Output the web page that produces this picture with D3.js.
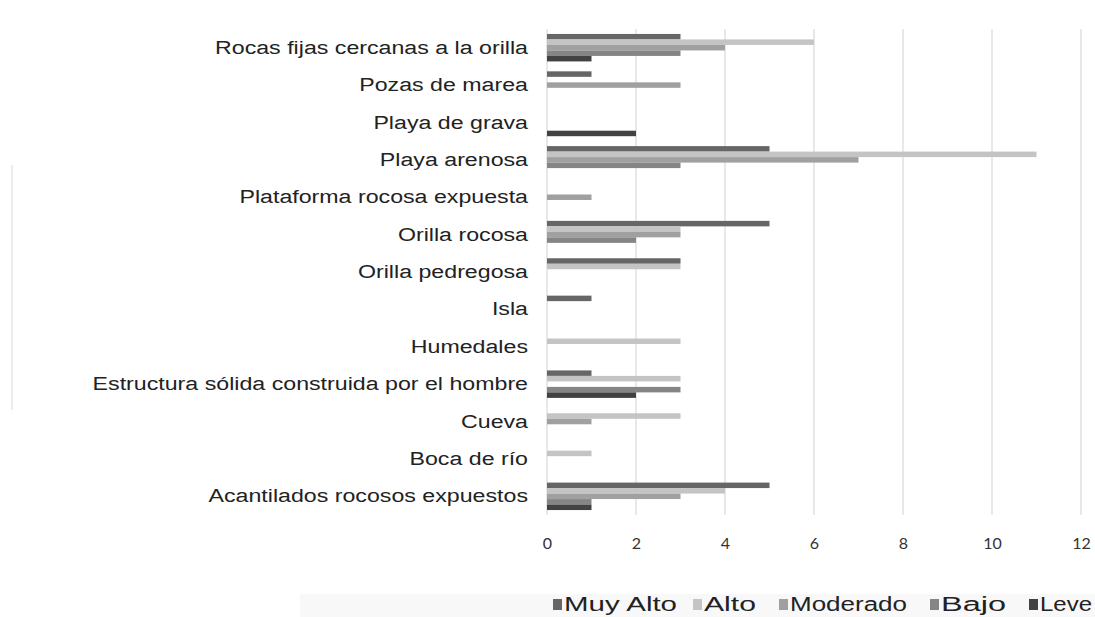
<!DOCTYPE html>
<html>
<head>
<meta charset="utf-8">
<script src="https://cdn.jsdelivr.net/npm/d3@7"></script>
<style>
  body { margin: 0; background: #fff; }
  svg { display: block; }
</style>
</head>
<body>
<svg id="chart" width="1095" height="617"></svg>
<script>
// categories, top to bottom
var categories = [
  "Rocas fijas cercanas a la orilla",
  "Pozas de marea",
  "Playa de grava",
  "Playa arenosa",
  "Plataforma rocosa expuesta",
  "Orilla rocosa",
  "Orilla pedregosa",
  "Isla",
  "Humedales",
  "Estructura sólida construida por el hombre",
  "Cueva",
  "Boca de río",
  "Acantilados rocosos expuestos"
];
var seriesNames = ["Muy Alto", "Alto", "Moderado", "Bajo", "Leve"];
var seriesColors = ["#666666", "#c4c4c4", "#a0a0a0", "#858585", "#424242"];

// one array per series, same order as categories
var muyAlto  = [3, 1, 0, 5, 0, 5, 3, 1, 0, 1, 0, 0, 5];
var alto     = [6, 0, 0, 11, 0, 3, 3, 0, 3, 3, 3, 1, 4];
var moderado = [4, 3, 0, 7, 1, 3, 0, 0, 0, 0, 1, 0, 3];
var bajo     = [3, 0, 0, 3, 0, 2, 0, 0, 0, 3, 0, 0, 1];
var leve     = [1, 0, 2, 0, 0, 0, 0, 0, 0, 2, 0, 0, 1];
var xTicks = [0, 2, 4, 6, 8, 10, 12];

var allSeries = [muyAlto, alto, moderado, bajo, leve];

var svg = d3.select("#chart");
var plotLeft = 547, plotRight = 1081, plotTop = 29, plotBottom = 515;
var stretch = 1.22; // the scanned text is wider than it is tall

var x = d3.scaleLinear().domain([0, 12]).range([plotLeft, plotRight]);
var y = d3.scaleBand().domain(categories).range([plotTop, plotBottom])
    .paddingInner(0.265).paddingOuter(0.1325);
var ySub = d3.scaleBand().domain(seriesNames).range([0, y.bandwidth()]);

// faint scan edge at left
svg.append("line").attr("x1", 12).attr("x2", 12).attr("y1", 165).attr("y2", 410)
    .attr("stroke", "#ececec").attr("stroke-width", 2);
// faint legend band
svg.append("rect").attr("x", 300).attr("y", 594).attr("width", 795).attr("height", 23)
    .attr("fill", "#f8f8f8");

// gridlines
svg.append("g").selectAll("line").data(xTicks).enter().append("line")
    .attr("x1", function (d) { return x(d); })
    .attr("x2", function (d) { return x(d); })
    .attr("y1", plotTop).attr("y2", plotBottom)
    .attr("stroke", "#d9d9d9").attr("stroke-width", 1.2);

// bars
var groups = svg.append("g").selectAll("g").data(categories).enter().append("g")
    .attr("transform", function (d) { return "translate(0," + y(d) + ")"; });

groups.selectAll("rect")
    .data(function (d, i) {
      return seriesNames.map(function (s, j) { return { s: s, v: allSeries[j][i], c: seriesColors[j] }; });
    })
    .enter().append("rect")
    .attr("x", x(0))
    .attr("y", function (d) { return ySub(d.s); })
    .attr("height", ySub.bandwidth())
    .attr("width", function (d) { return x(d.v) - x(0); })
    .attr("fill", function (d) { return d.c; });

// x axis labels
var xAxis = svg.append("g").attr("transform", "translate(0," + (plotBottom + 23) + ")")
    .call(d3.axisBottom(x).tickValues(xTicks).tickSize(0).tickPadding(0));
xAxis.select(".domain").remove();
xAxis.selectAll("text").attr("font-family", "Lato, 'Open Sans', sans-serif")
    .attr("font-size", 16).attr("fill", "#333");

// category labels
var yAxis = svg.append("g").attr("transform", "translate(" + plotLeft + ",0)")
    .call(d3.axisLeft(y).tickSize(0).tickPadding(19));
yAxis.select(".domain").remove();
yAxis.selectAll("text").attr("font-family", "'Liberation Sans', Arial, sans-serif")
    .attr("font-size", 19).attr("fill", "#222")
    .attr("x", 0)
    .attr("transform", "translate(-19,0) scale(" + stretch + ",1)");

// legend
var legendX = [553, 693, 779, 930, 1029];
var legendW = [113, 52, 117, 65, 52];
var legend = svg.append("g").selectAll("g").data(seriesNames).enter().append("g")
    .attr("transform", function (d, i) { return "translate(" + legendX[i] + ",604)"; });
legend.append("rect").attr("x", 0).attr("y", -5).attr("width", 9).attr("height", 11)
    .attr("fill", function (d, i) { return seriesColors[i]; });
legend.append("text").attr("x", 11).attr("dy", "0.36em")
    .attr("font-family", "'Liberation Sans', Arial, sans-serif")
    .attr("font-size", 20).attr("fill", "#222")
    .attr("textLength", function (d, i) { return legendW[i]; })
    .attr("lengthAdjust", "spacingAndGlyphs")
    .text(function (d) { return d; });
</script>
</body>
</html>
